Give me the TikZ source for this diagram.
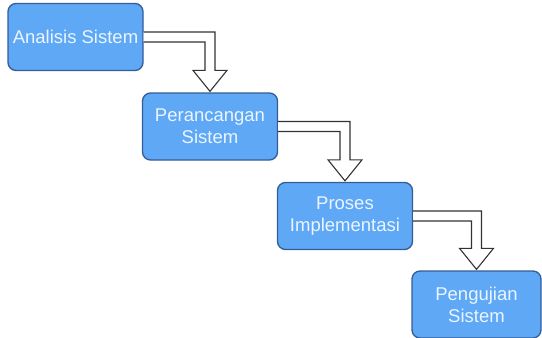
\documentclass[tikz,border=0pt]{standalone}
\usepackage{fontspec}
\setmainfont{Liberation Sans}
\usetikzlibrary{calc}
\definecolor{boxblue}{RGB}{94,168,246}
\definecolor{boxline}{RGB}{52,92,150}
\definecolor{boxtext}{RGB}{236,245,255}
\tikzset{
    stage/.style={draw=boxline, fill=boxblue, line width=1.3pt, rounded corners=8pt, text=boxtext,
        align=center, minimum width=135pt, minimum height=67pt, inner sep=0pt,
        font=\fontsize{18.5}{22}\selectfont}, % kotak tahapan
    hollow/.style={draw=black!80, fill=white, line width=1.1pt, line join=miter} % panah berongga
}
% panah siku berongga dari sisi kanan #1 ke sisi atas #2
\newcommand{\elbowarrow}[2]{
    \draw[hollow] let \p1=(#1.east), \p2=(#2.north) in
        (\x1,\y1+5pt) -- (\x2+5pt,\y1+5pt) -- (\x2+5pt,\y2+22pt) -- (\x2+17pt,\y2+22pt) -- (\x2,\y2+1pt)
        -- (\x2-17pt,\y2+22pt) -- (\x2-5pt,\y2+22pt) -- (\x2-5pt,\y1-5pt) -- (\x1,\y1-5pt);
}

\begin{document}
\begin{tikzpicture}[x=1pt, y=-1pt]
    \useasboundingbox (0,0) rectangle (542,338);

    \node[stage] (analisis) at (75.5,37) {Analisis Sistem};
    \node[stage] (perancangan) at (210,126.5) {Perancangan\\Sistem};
    \node[stage] (implementasi) at (345,216) {Proses\\Implementasi};
    \node[stage, minimum width=129pt] (pengujian) at (476.5,304.5) {Pengujian\\Sistem};

    \elbowarrow{analisis}{perancangan}
    \elbowarrow{perancangan}{implementasi}
    \elbowarrow{implementasi}{pengujian}
\end{tikzpicture}
\end{document}
